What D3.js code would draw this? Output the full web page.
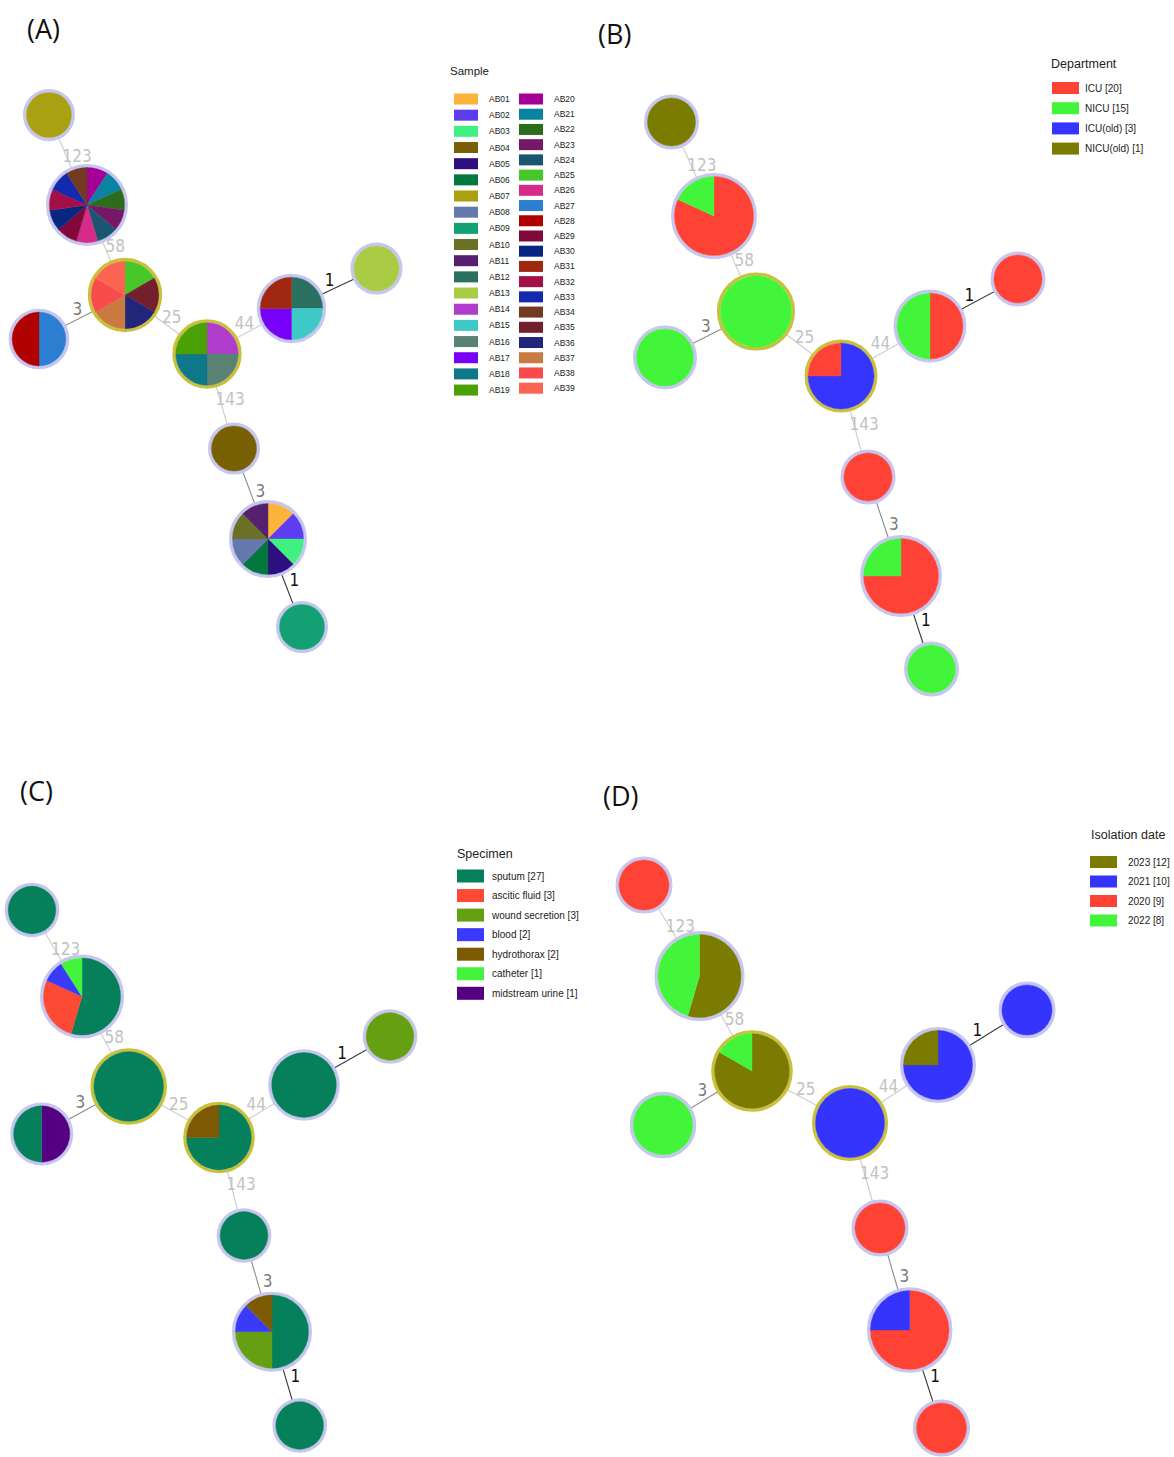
<!DOCTYPE html>
<html>
<head>
<meta charset="utf-8">
<script src="https://cdn.jsdelivr.net/npm/d3@7"></script>
<style>
  body { margin: 0; background: #fff; }
  svg { display: block; }
</style>
</head>
<body>
<svg id="fig" width="1174" height="1457"></svg>
<script>
// ---------- samples ----------
const sampleIds = ["AB01","AB02","AB03","AB04","AB05","AB06","AB07","AB08","AB09","AB10",
  "AB11","AB12","AB13","AB14","AB15","AB16","AB17","AB18","AB19","AB20",
  "AB21","AB22","AB23","AB24","AB25","AB26","AB27","AB28","AB29","AB30",
  "AB31","AB32","AB33","AB34","AB35","AB36","AB37","AB38","AB39"];
const sampleColors = ["#fbb33b","#5e3cf0","#40f080","#7a6005","#2e0f80","#02783f","#a9a012","#6478ae","#13a072","#6a7026",
  "#55206e","#2a7060","#aacc44","#b03ccc","#3ec8c6","#5a8274","#7800f6","#0e7888","#4aa005","#a40098",
  "#0a82a2","#2d6c1c","#761868","#1a5670","#46c82a","#d42c88","#2c7ed0","#b00202","#80093a","#062680",
  "#a02811","#a40f48","#1429ae","#723a20","#73202c","#22267a","#c87a40","#f84c4c","#fa6450"];

// ---------- minimum spanning tree: nodes (sample members) and edges ----------
const nodeMembers = [
  ["AB07"],
  ["AB20","AB21","AB22","AB23","AB24","AB26","AB29","AB30","AB32","AB33","AB34"],
  ["AB25","AB35","AB36","AB37","AB38","AB39"],
  ["AB27","AB28"],
  ["AB14","AB16","AB18","AB19"],
  ["AB12","AB15","AB17","AB31"],
  ["AB13"],
  ["AB04"],
  ["AB01","AB02","AB03","AB05","AB06","AB08","AB10","AB11"],
  ["AB09"]
];
const linkSource   = [0, 1, 2, 2, 4, 5, 4, 7, 8];
const linkTarget   = [1, 2, 3, 4, 5, 6, 7, 8, 9];
const linkDistance = [123, 58, 3, 25, 44, 1, 143, 3, 1];
const highlightedNodes = [2, 4];

// ---------- department ----------
const deptNames  = ["ICU","NICU","ICU(old)","NICU(old)"];
const deptColors = ["#fe4336","#43f53a","#3535fd","#7a7c00"];
const deptByNode = [
  [["NICU(old)",1]],
  [["ICU",9],["NICU",2]],
  [["NICU",6]],
  [["NICU",2]],
  [["ICU(old)",3],["ICU",1]],
  [["ICU",2],["NICU",2]],
  [["ICU",1]],
  [["ICU",1]],
  [["ICU",6],["NICU",2]],
  [["NICU",1]]
];

// ---------- specimen ----------
const specimenNames  = ["sputum","ascitic fluid","wound secretion","blood","hydrothorax","catheter","midstream urine"];
const specimenColors = ["#067f5b","#fd4a34","#64a012","#3a3afa","#7c5a04","#44f43c","#540080"];
const specimenByNode = [
  [["sputum",1]],
  [["sputum",6],["ascitic fluid",3],["blood",1],["catheter",1]],
  [["sputum",6]],
  [["midstream urine",1],["sputum",1]],
  [["sputum",3],["hydrothorax",1]],
  [["sputum",2],["sputum",2]],
  [["wound secretion",1]],
  [["sputum",1]],
  [["sputum",4],["wound secretion",2],["blood",1],["hydrothorax",1]],
  [["sputum",1]]
];

// ---------- isolation date ----------
const yearNames  = ["2023","2021","2020","2022"];
const yearColors = ["#7b7b02","#3434fc","#fe4334","#43f53a"];
const yearByNode = [
  [["2020",1]],
  [["2023",6],["2022",5]],
  [["2023",5],["2022",1]],
  [["2022",2]],
  [["2021",4]],
  [["2021",3],["2023",1]],
  [["2021",1]],
  [["2020",1]],
  [["2020",6],["2021",2]],
  [["2020",1]]
];

// ---------- tree layouts (panel-local layout units) ----------
const layoutA = [[49,115],[87,205],[125,295],[39,339],[207,354],[291.5,308.5],[376.5,268.5],[234,448.5],[268,539],[302,627]];
const layoutB = [[84.5,122],[127,216],[169,311.5],[78,357.5],[254,376],[343,326],[431,279],[281,477],[314,576],[344.5,669]];
const layoutC = [[32,150],[82,236.5],[128.7,326.5],[41.7,374],[219,377.5],[304,325],[390,276.5],[244,475.5],[272,571.7],[299.7,665.5]];
const layoutD = [[57,125],[112.5,216],[165,311],[76,365],[263,363],[351,305],[440,250],[293,468],[322.7,570],[354.5,668]];

const svg = d3.select("#fig");
const PW = 587, PH = 760;

function totals(byNode, names) {
  const t = new Map(names.map(n => [n, 0]));
  byNode.forEach(list => list.forEach(([n, c]) => t.set(n, t.get(n) + c)));
  return t;
}

const panels = [
  {
    tag: "(A)", origin: [0, 0], tagAt: [27, 39], layout: layoutA, rRange: [26, 41],
    slices: nodeMembers.map(m => m.map(s => [s, 1])),
    names: sampleIds, colors: sampleColors,
    legend: { title: "Sample", titleAt: [450, 75], titleSize: 11.5,
      columns: [{ x: 454, y0: 93.5, step: 16.17, from: 0, to: 19 },
                { x: 519, y0: 93.5, step: 15.22, from: 19, to: 39 }],
      sw: 24, sh: 11, dx: 35, fs: 8.5, counts: false }
  },
  {
    tag: "(B)", origin: [PW, 0], tagAt: [598, 44], layout: layoutB, rRange: [27.5, 43],
    slices: deptByNode, names: deptNames, colors: deptColors,
    legend: { title: "Department", titleAt: [1051, 68], titleSize: 12.5,
      columns: [{ x: 1052, y0: 82, step: 20.2, from: 0, to: 4 }],
      sw: 27, sh: 12, dx: 33, fs: 10, counts: true }
  },
  {
    tag: "(C)", origin: [0, PH], tagAt: [20, 801], layout: layoutC, rRange: [27.3, 42],
    slices: specimenByNode, names: specimenNames, colors: specimenColors,
    legend: { title: "Specimen", titleAt: [457, 858], titleSize: 12.5,
      columns: [{ x: 457, y0: 869.5, step: 19.55, from: 0, to: 7 }],
      sw: 27, sh: 13, dx: 35, fs: 10, counts: true }
  },
  {
    tag: "(D)", origin: [PW, PH], tagAt: [603, 806], layout: layoutD, rRange: [28.5, 45],
    slices: yearByNode, names: yearNames, colors: yearColors,
    legend: { title: "Isolation date", titleAt: [1091, 839], titleSize: 12.5,
      columns: [{ x: 1090, y0: 856, step: 19.5, from: 0, to: 4 }],
      sw: 27, sh: 12, dx: 38, fs: 10, counts: true }
  }
];

// edge styling by allele distance
const edgeStroke = d3.scaleThreshold().domain([2, 10]).range(["#3a3a3a", "#8c8c8c", "#cdcdcd"]);
const edgeText   = d3.scaleThreshold().domain([2, 10]).range(["#111111", "#7a7a7a", "#c2c2c2"]);

const pie = d3.pie().sort(null).value(d => d[1]);

panels.forEach(p => {
  const x = d3.scaleLinear().domain([0, PW]).range([p.origin[0], p.origin[0] + PW]);
  const y = d3.scaleLinear().domain([0, PH]).range([p.origin[1], p.origin[1] + PH]);
  const r = d3.scaleLog().domain([1, 11]).range(p.rRange);
  const color = d3.scaleOrdinal().domain(p.names).range(p.colors);

  const nodes = nodeMembers.map((m, i) => ({
    i, n: m.length, cx: x(p.layout[i][0]), cy: y(p.layout[i][1]),
    parts: p.slices[i], ring: highlightedNodes.includes(i)
  }));
  const links = linkSource.map((s, k) => ({ s: nodes[s], t: nodes[linkTarget[k]], d: linkDistance[k] }));

  const g = svg.append("g");

  // edges
  g.selectAll("line.edge").data(links).join("line")
    .attr("class", "edge")
    .attr("x1", d => d.s.cx).attr("y1", d => d.s.cy)
    .attr("x2", d => d.t.cx).attr("y2", d => d.t.cy)
    .attr("stroke", d => edgeStroke(d.d))
    .attr("stroke-width", 1.1);

  // edge labels: midpoint, nudged off the line on its upper side
  g.selectAll("text.dist").data(links).join("text")
    .attr("class", "dist")
    .each(function (d) {
      const dx = d.t.cx - d.s.cx, dy = d.t.cy - d.s.cy, L = Math.hypot(dx, dy);
      let px = dy / L, py = -dx / L;
      if (py > 0) { px = -px; py = -py; }
      d3.select(this)
        .attr("x", (d.s.cx + d.t.cx) / 2 + px * 10)
        .attr("y", (d.s.cy + d.t.cy) / 2 + py * 9);
    })
    .attr("text-anchor", "middle")
    .attr("dominant-baseline", "central")
    .attr("font-family", "'DejaVu Sans Condensed', 'DejaVu Sans', sans-serif")
    .attr("font-size", 17)
    .attr("fill", d => edgeText(d.d))
    .text(d => d.d);

  // nodes
  const ng = g.selectAll("g.node").data(nodes).join("g")
    .attr("class", "node")
    .attr("transform", d => `translate(${d.cx},${d.cy})`);

  ng.append("circle")
    .attr("r", d => r(d.n) - 1.7)
    .attr("fill", "#fff")
    .attr("stroke", d => d.ring ? "#c9c03c" : "#c6c6f1")
    .attr("stroke-width", 3.4);

  ng.each(function (d) {
    const arc = d3.arc().innerRadius(0).outerRadius(r(d.n) - 3.4);
    d3.select(this).selectAll("path").data(pie(d.parts)).join("path")
      .attr("d", arc)
      .attr("fill", s => color(s.data[0]))
      .attr("stroke", s => color(s.data[0]))
      .attr("stroke-width", 0.4);
  });

  // panel tag
  svg.append("text")
    .attr("x", p.tagAt[0]).attr("y", p.tagAt[1])
    .attr("font-family", "'Open Sans', sans-serif")
    .attr("font-size", 27)
    .attr("fill", "#111")
    .text(p.tag);

  // legend
  const lg = p.legend;
  const tot = totals(p.slices, p.names);
  const lgG = svg.append("g").attr("font-family", "'Liberation Sans', Arial, sans-serif");
  lgG.append("text")
    .attr("x", lg.titleAt[0]).attr("y", lg.titleAt[1])
    .attr("font-size", lg.titleSize).attr("fill", "#222")
    .text(lg.title);
  lg.columns.forEach(col => {
    const items = p.names.slice(col.from, col.to);
    const rows = lgG.append("g").selectAll("g").data(items).join("g")
      .attr("transform", (d, k) => `translate(${col.x},${col.y0 + k * col.step})`);
    rows.append("rect")
      .attr("width", lg.sw).attr("height", lg.sh)
      .attr("fill", d => color(d));
    rows.append("text")
      .attr("x", lg.dx).attr("y", lg.sh / 2)
      .attr("dominant-baseline", "central")
      .attr("font-size", lg.fs).attr("fill", "#222")
      .text(d => lg.counts ? `${d} [${tot.get(d)}]` : d);
  });
});
</script>
</body>
</html>
